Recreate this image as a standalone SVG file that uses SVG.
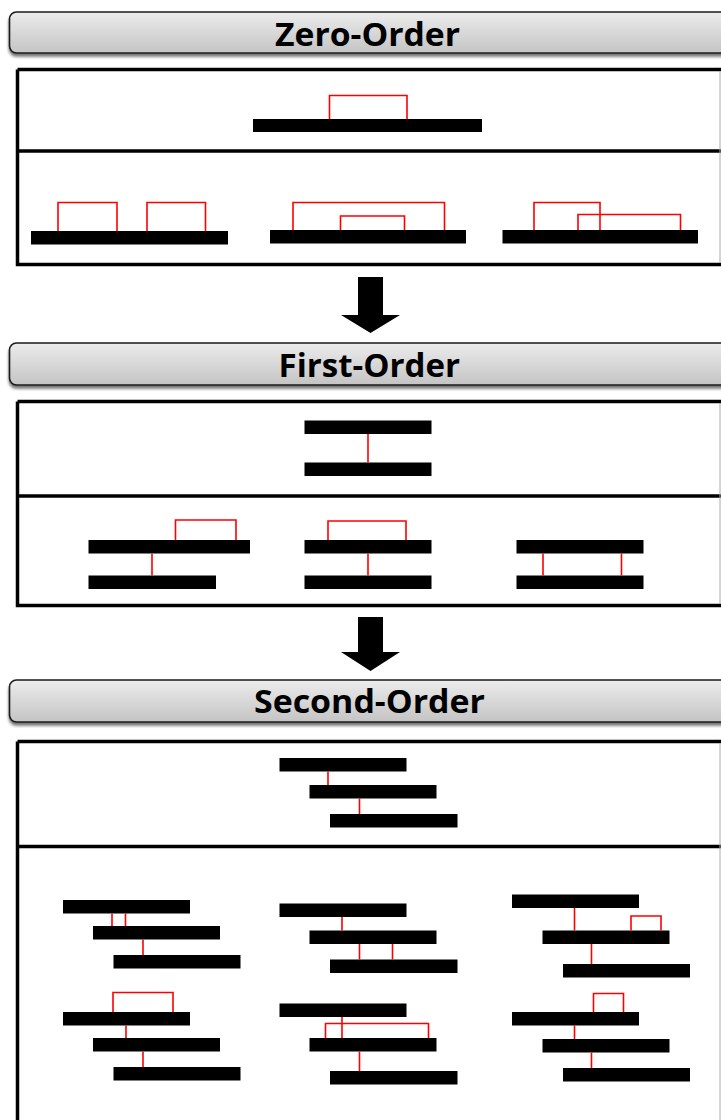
<svg xmlns="http://www.w3.org/2000/svg" width="721" height="1120" viewBox="0 0 721 1120">
<style>
.hdr{fill:url(#g);stroke:#1a1a1a;stroke-width:1.6}
.ht{font-family:"Open Sans","Noto Sans",sans-serif;font-weight:bold;font-size:33px;fill:#000;text-anchor:start}
.box{fill:#fff;stroke:none}
.bl{stroke:#000;stroke-width:3.5;fill:none}
.bar{fill:#000}
.r{stroke:#ff0000;stroke-width:1.6;fill:none}
.arr{fill:#000}
</style>
<defs>
<linearGradient id="g" x1="0" y1="0" x2="0" y2="1">
<stop offset="0" stop-color="#ececec"/>
<stop offset="1" stop-color="#c4c4c4"/>
</linearGradient>
<filter id="sh" x="-5%" y="-20%" width="110%" height="160%">
<feGaussianBlur in="SourceAlpha" stdDeviation="1.6"/>
<feOffset dx="0" dy="2.5"/>
<feComponentTransfer><feFuncA type="linear" slope="0.55"/></feComponentTransfer>
<feMerge><feMergeNode/><feMergeNode in="SourceGraphic"/></feMerge>
</filter>
</defs>

<g id="header-zero">
<rect class="hdr" x="9.5" y="12" width="725" height="41" rx="7" filter="url(#sh)"/>
<text class="ht" x="275" y="46" textLength="185" lengthAdjust="spacingAndGlyphs">Zero-Order</text>
</g>

<g id="box-zero">
<path class="bl" d="M17.5 69.5 H725 M17.5 69.5 V264.5 H725 M17.5 151 H725"/>
<line x1="720" y1="71" x2="720" y2="263" stroke="#aaa" stroke-width="1"/>
<g id="z-top">
<rect class="bar" x="253" y="119" width="229" height="13"/>
<path class="r" d="M329.5 119 V95.5 H407 V119"/>
</g>
<g id="z-a">
<rect class="bar" x="31" y="231" width="197" height="13.5"/>
<path class="r" d="M58 231 V202.5 H117 V231 M147 231 V202.5 H205.5 V231"/>
</g>
<g id="z-b">
<rect class="bar" x="270" y="230" width="196" height="13.5"/>
<path class="r" d="M293 230 V202.5 H444.5 V230 M340.5 230 V216 H404.5 V230"/>
</g>
<g id="z-c">
<rect class="bar" x="502.5" y="230" width="195.5" height="13.5"/>
<path class="r" d="M534 230 V202.5 H600 V230 M578 230 V214.5 H680.5 V230"/>
</g>
</g>

<g id="connectors">
<polygon class="arr" points="358,277 383,277 383,315 400,315 370.5,333 341,315 358,315"/>
<polygon class="arr" points="358,617 383,617 383,652 400,652 370.5,671 341,652 358,652"/>
</g>

<g id="header-first">
<rect class="hdr" x="9.5" y="343" width="725" height="42" rx="7" filter="url(#sh)"/>
<text class="ht" x="278.5" y="377" textLength="181.5" lengthAdjust="spacingAndGlyphs">First-Order</text>
</g>

<g id="box-first">
<path class="bl" d="M17.5 401.5 H725 M17.5 401.5 V605.5 H725 M17.5 496 H725"/>
<line x1="720" y1="403" x2="720" y2="604" stroke="#aaa" stroke-width="1"/>
<g id="f-top">
<rect class="bar" x="304.5" y="420.5" width="127" height="13.5"/>
<rect class="bar" x="304.5" y="462.5" width="127" height="13.5"/>
<path class="r" d="M368 434 V462.5"/>
</g>
<g id="f-a">
<rect class="bar" x="88.5" y="540" width="161.5" height="13.5"/>
<rect class="bar" x="88.5" y="575.5" width="127.5" height="13.5"/>
<path class="r" d="M152 553.5 V575.5 M175.5 540 V520 H236 V540"/>
</g>
<g id="f-b">
<rect class="bar" x="304.5" y="540" width="127" height="13.5"/>
<rect class="bar" x="304.5" y="575.5" width="127" height="13.5"/>
<path class="r" d="M368 553.5 V575.5 M328 540 V521 H406 V540"/>
</g>
<g id="f-c">
<rect class="bar" x="516.5" y="540" width="127" height="13.5"/>
<rect class="bar" x="516.5" y="575.5" width="127" height="13.5"/>
<path class="r" d="M543 553.5 V575.5 M621.5 553.5 V575.5"/>
</g>
</g>

<g id="header-second">
<rect class="hdr" x="9.5" y="680" width="725" height="42" rx="7" filter="url(#sh)"/>
<text class="ht" x="254" y="713" textLength="231" lengthAdjust="spacingAndGlyphs">Second-Order</text>
</g>

<g id="box-second">
<path class="bl" d="M17.5 741.5 H725 M17.5 741.5 V1125 M17.5 846.5 H725"/>
<line x1="720" y1="743" x2="720" y2="1120" stroke="#aaa" stroke-width="1"/>
<g id="s-top">
<rect class="bar" x="279.5" y="758" width="127" height="13.5"/>
<rect class="bar" x="309.5" y="785" width="127" height="13.5"/>
<rect class="bar" x="330" y="814" width="127.5" height="13.5"/>
<path class="r" d="M328 771.5 V785 M359.5 798.5 V814"/>
</g>
<g id="s-a">
<rect class="bar" x="63" y="900" width="127" height="13.5"/>
<rect class="bar" x="93" y="926" width="127" height="13.5"/>
<rect class="bar" x="113.5" y="955" width="127" height="13.5"/>
<path class="r" d="M112 913.5 V926 M125.5 913.5 V926 M143 939.5 V955"/>
</g>
<g id="s-b">
<rect class="bar" x="279.5" y="903.5" width="127" height="13.5"/>
<rect class="bar" x="309.5" y="930.5" width="127" height="13.5"/>
<rect class="bar" x="330" y="959.5" width="127.5" height="13.5"/>
<path class="r" d="M342 917 V930.5 M359.5 944 V959.5 M392.5 944 V959.5"/>
</g>
<g id="s-c">
<rect class="bar" x="512" y="894.5" width="127" height="13.5"/>
<rect class="bar" x="542.5" y="930.5" width="127" height="13.5"/>
<rect class="bar" x="563" y="964" width="127" height="13.5"/>
<path class="r" d="M574.5 908 V930.5 M631 930.5 V916 H661 V930.5 M591.5 944 V964"/>
</g>
<g id="s-d">
<rect class="bar" x="63" y="1012" width="127" height="13.5"/>
<rect class="bar" x="93" y="1038" width="127" height="13.5"/>
<rect class="bar" x="113.5" y="1067" width="127" height="13.5"/>
<path class="r" d="M113 1012 V992.5 H173 V1012 M126 1025.5 V1038 M143 1051.5 V1067"/>
</g>
<g id="s-e">
<rect class="bar" x="279.5" y="1003.5" width="127" height="13.5"/>
<rect class="bar" x="309.5" y="1038" width="127" height="13.5"/>
<rect class="bar" x="330" y="1071" width="127.5" height="13.5"/>
<path class="r" d="M342 1017 V1038 M325.5 1038 V1023.5 H428.5 V1038 M359.5 1051.5 V1071"/>
</g>
<g id="s-f">
<rect class="bar" x="512" y="1012" width="127" height="13.5"/>
<rect class="bar" x="542.5" y="1039" width="127" height="13.5"/>
<rect class="bar" x="563" y="1068" width="127" height="13.5"/>
<path class="r" d="M593.5 1012 V993.5 H623.5 V1012 M574.5 1025.5 V1039 M591.5 1052.5 V1068"/>
</g>
</g>
</svg>
